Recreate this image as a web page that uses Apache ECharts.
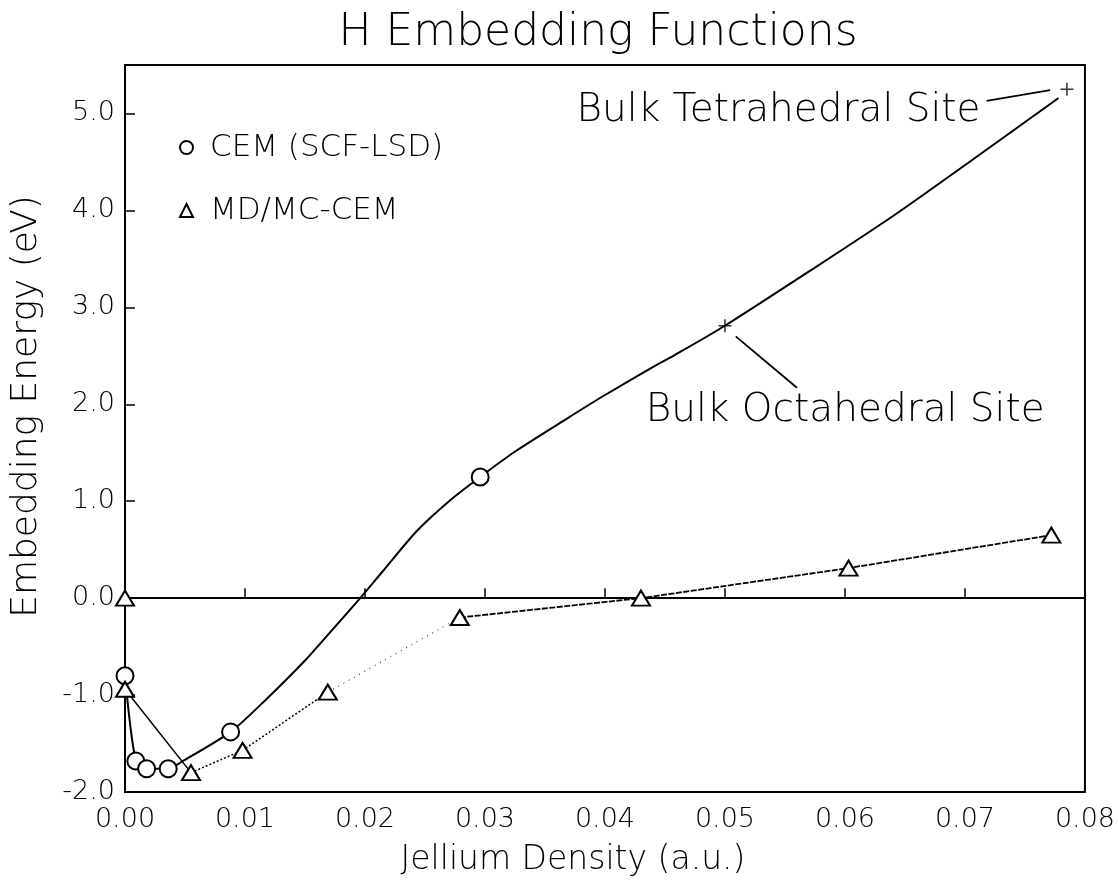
<!DOCTYPE html>
<html>
<head>
<meta charset="utf-8">
<title>H Embedding Functions</title>
<script src="https://cdn.jsdelivr.net/npm/echarts@6/dist/echarts.min.js"></script>
<style>
  html, body { margin: 0; padding: 0; background: #fff; }
  #main { width: 1118px; height: 884px; }
</style>
</head>
<body>
<div id="main"></div>
<script>
// CEM (SCF-LSD) points (open circles)
const cemX = [0.0, 0.0009, 0.0018, 0.0036, 0.0088, 0.0296]
const cemY = [-0.80, -1.68, -1.76, -1.76, -1.38, 1.25]

// solid CEM curve
const fitX = [0.0, 0.0009, 0.0018, 0.0036, 0.0047, 0.0088, 0.0118, 0.0151, 0.0174, 0.0196,
  0.0215, 0.0243, 0.0271, 0.0296, 0.0326, 0.0368, 0.0398, 0.0438, 0.0457, 0.0500,
  0.0575, 0.0641, 0.0706, 0.0778]
const fitY = [-0.80, -1.68, -1.76, -1.76, -1.69, -1.38, -1.04, -0.63, -0.31, 0.00,
  0.28, 0.69, 1.01, 1.25, 1.52, 1.85, 2.08, 2.37, 2.50, 2.81,
  3.41, 3.95, 4.52, 5.16]

// MD/MC-CEM points (open triangles)
const mdX = [0.0, 0.0, 0.0055, 0.0098, 0.0169, 0.0279, 0.0430, 0.0603, 0.0772]
const mdY = [0.00, -0.94, -1.80, -1.57, -0.97, -0.20, 0.00, 0.31, 0.65]

// bulk sites (+)
const siteNames = ['Bulk Octahedral Site', 'Bulk Tetrahedral Site']
const siteX = [0.0500, 0.0785]
const siteY = [2.81, 5.25]

const font = 'DejaVu Sans'
const plusPath = 'path://M4.4,0 L5.6,0 L5.6,4.4 L10,4.4 L10,5.6 L5.6,5.6 L5.6,10 L4.4,10 L4.4,5.6 L0,5.6 L0,4.4 L4.4,4.4 Z'

const chart = echarts.init(document.getElementById('main'))

function pairs (xs, ys, from, to) {
  let out = []
  for (let i = from; i <= to; i++) {
    out.push([xs[i], ys[i]])
  }
  return out
}

// pieces of the MD/MC-CEM connecting line, each drawn in its own style
function mdSegment (from, to, width, dash) {
  return {
    type: 'line',
    silent: true,
    symbol: 'none',
    data: pairs(mdX, mdY, from, to),
    lineStyle: { color: '#000', width: width, type: dash },
    z: 2
  }
}

let option = {
  backgroundColor: '#fff',
  animation: false,
  grid: {
    left: 125,
    right: 33,
    top: 65,
    bottom: 92,
    show: true,
    borderColor: '#000',
    borderWidth: 2
  },
  legend: {
    orient: 'vertical',
    left: 174,
    top: 127,
    itemGap: 32,
    itemWidth: 13,
    itemHeight: 13,
    data: ['CEM (SCF-LSD)', 'MD/MC-CEM'],
    textStyle: { fontFamily: font, fontWeight: 200, fontSize: 31, color: '#000', padding: [0, 0, 0, 12] }
  },
  xAxis: {
    type: 'value',
    min: 0,
    max: 0.08,
    interval: 0.01,
    name: 'Jellium Density (a.u.)',
    nameLocation: 'middle',
    nameGap: 52,
    nameTextStyle: { fontFamily: font, fontWeight: 200, fontSize: 33, color: '#000', padding: [0, 64, 0, 0] },
    axisLine: { lineStyle: { color: '#000', width: 2 } },
    axisTick: { inside: true, length: 10, lineStyle: { color: '#000', width: 1.5 } },
    axisLabel: {
      margin: 14,
      fontFamily: font,
      fontWeight: 200,
      fontSize: 27,
      color: '#000',
      formatter: (v) => v.toFixed(2)
    },
    splitLine: { show: false }
  },
  yAxis: {
    type: 'value',
    min: -2,
    max: 5.5,
    interval: 1,
    name: 'Embedding Energy (eV)',
    nameLocation: 'middle',
    nameGap: 80,
    nameTextStyle: { fontFamily: font, fontWeight: 200, fontSize: 36, color: '#000', padding: [0, 0, 0, 44] },
    axisLine: { lineStyle: { color: '#000', width: 2 } },
    axisTick: { inside: true, length: 10, lineStyle: { color: '#000', width: 1.5 } },
    axisLabel: {
      margin: 10,
      fontFamily: font,
      fontWeight: 200,
      fontSize: 27,
      color: '#000',
      formatter: (v) => Number.isInteger(v) ? v.toFixed(1) : ''
    },
    splitLine: { show: false }
  },
  series: [
    {
      name: 'fit',
      type: 'line',
      silent: true,
      symbol: 'none',
      smooth: 0.25,
      data: pairs(fitX, fitY, 0, fitX.length - 1),
      lineStyle: { color: '#000', width: 2 },
      z: 3,
      markLine: {
        silent: true,
        symbol: 'none',
        label: { show: false },
        lineStyle: { color: '#000', width: 2, type: 'solid' },
        data: [{ yAxis: 0 }]
      }
    },
    mdSegment(0, 2, 1.5, 'solid'),
    mdSegment(2, 4, 1.5, [2, 2]),
    mdSegment(4, 5, 1, [1, 5]),
    mdSegment(5, 8, 1.8, [6, 1.5]),
    {
      name: 'tetraLead',
      type: 'line',
      silent: true,
      symbol: 'none',
      data: [[0.0718, 5.13], [0.0771, 5.24]],
      lineStyle: { color: '#000', width: 1.8 }
    },
    {
      name: 'octaLead',
      type: 'line',
      silent: true,
      symbol: 'none',
      data: [[0.0509, 2.70], [0.0560, 2.17]],
      lineStyle: { color: '#000', width: 1.8 }
    },
    {
      name: 'CEM (SCF-LSD)',
      type: 'scatter',
      symbol: 'circle',
      symbolSize: 17,
      data: pairs(cemX, cemY, 0, cemX.length - 1),
      itemStyle: { color: '#fff', borderColor: '#000', borderWidth: 2, opacity: 1 },
      z: 5
    },
    {
      name: 'MD/MC-CEM',
      type: 'scatter',
      symbol: 'triangle',
      symbolSize: [18, 15],
      data: pairs(mdX, mdY, 0, mdX.length - 1),
      itemStyle: { color: '#fff', borderColor: '#000', borderWidth: 2, opacity: 1 },
      z: 5
    },
    {
      name: 'sites',
      type: 'scatter',
      symbol: plusPath,
      symbolSize: 13,
      data: pairs(siteX, siteY, 0, siteX.length - 1),
      itemStyle: { color: '#000' },
      z: 5
    }
  ]
}

chart.setOption(option)

// title and site labels as text placed from the data coordinates
let tetraPos = chart.convertToPixel({ gridIndex: 0 }, [0.0713, 5.03])
let octaPos = chart.convertToPixel({ gridIndex: 0 }, [0.0434, 1.93])
chart.setOption({
  graphic: [
    {
      type: 'text',
      x: 598,
      y: 12,
      style: { text: 'H Embedding Functions', font: '200 44px "DejaVu Sans"', fill: '#000', textAlign: 'center', textVerticalAlign: 'top' }
    },
    {
      type: 'text',
      x: tetraPos[0],
      y: tetraPos[1],
      style: { text: siteNames[1], font: '200 39px "DejaVu Sans"', fill: '#000', textAlign: 'right', textVerticalAlign: 'middle' }
    },
    {
      type: 'text',
      x: octaPos[0],
      y: octaPos[1],
      style: { text: siteNames[0], font: '200 39px "DejaVu Sans"', fill: '#000', textAlign: 'left', textVerticalAlign: 'middle' }
    }
  ]
})
</script>
</body>
</html>
